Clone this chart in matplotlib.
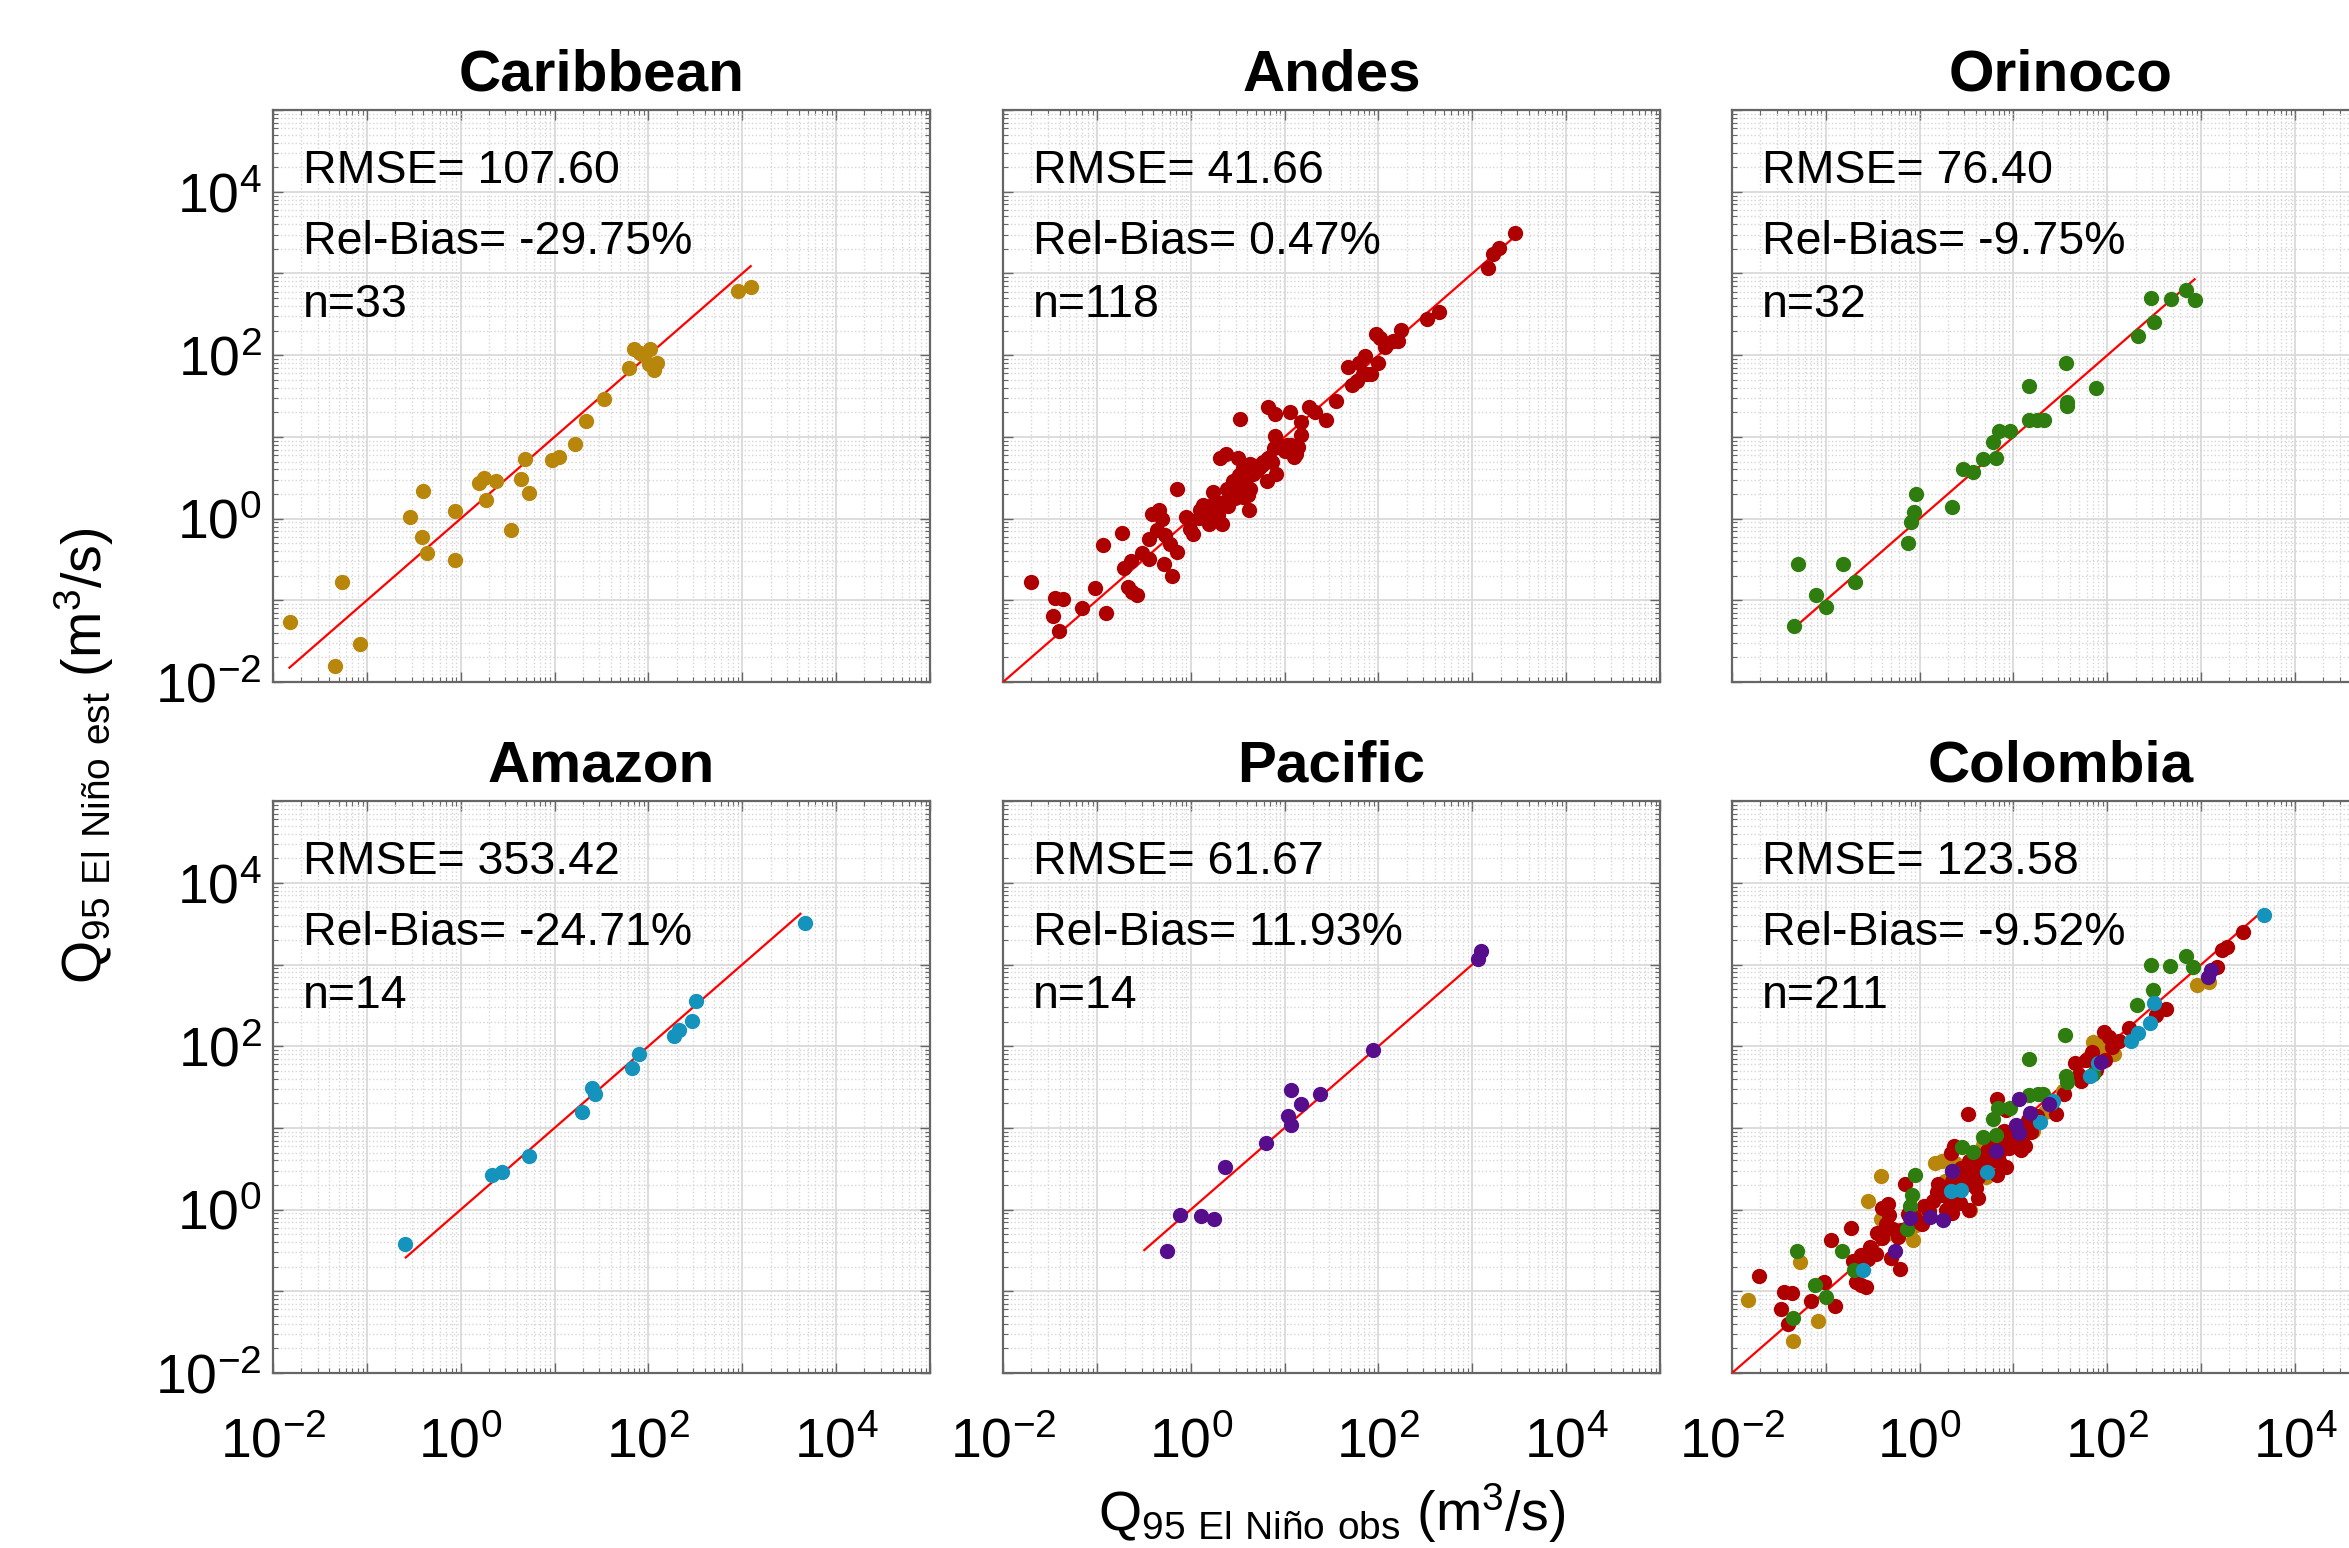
"""Q95 El Nino: estimated vs observed discharge by region, 2x3 log-log panels."""

import matplotlib

matplotlib.use("Agg")
import matplotlib.pyplot as plt
import numpy as np
from matplotlib.ticker import FuncFormatter, LogLocator, NullFormatter

plt.rcParams["font.family"] = ["Liberation Sans", "DejaVu Sans"]
plt.rcParams["mathtext.fontset"] = "custom"
plt.rcParams["mathtext.rm"] = "Liberation Sans"
plt.rcParams["mathtext.default"] = "regular"

# values are log10(m3/s)
carib_obs = [-1.82, -1.34, -1.26, -1.07, -0.54, -0.40, -0.41, -0.36, -0.06, -0.06, 0.19,
             0.25, 0.27, 0.38, 0.54, 0.64, 0.69, 0.73, 0.97, 1.05, 1.22, 1.34, 1.53, 1.79,
             1.85, 1.93, 2.02, 2.01, 2.06, 2.09, 1.91, 2.96, 3.09]
carib_est = [-1.26, -1.80, -0.77, -1.54, 0.02, 0.34, -0.23, -0.42, 0.09, -0.51, 0.44,
             0.50, 0.23, 0.46, -0.14, 0.49, 0.73, 0.31, 0.72, 0.75, 0.91, 1.19, 1.46, 1.84,
             2.07, 2.01, 2.07, 1.89, 1.82, 1.91, 2.03, 2.79, 2.83]

andes_obs = [-1.70, -1.45, -1.36, -1.47, -1.40, -1.16, -1.02, -0.90, -0.94, -0.73,
             -0.71, -0.64, -0.67, -0.63, -0.57, -0.52, -0.45, -0.44, -0.41, -0.34,
             -0.36, -0.31, -0.29, -0.27, -0.22, -0.20, -0.15, -0.05, -0.01, 0.02,
             0.09, 0.13, 0.17, 0.19, 0.22, 0.24, 0.29, 0.33, 0.36, 0.38,
             0.39, 0.43, 0.45, 0.50, 0.53, 0.56, 0.61, 0.62, 0.59, 0.46,
             0.31, 0.38, 0.50, 0.52, 0.51, 0.56, 0.63, 0.69, 0.73, 0.76,
             0.82, 0.87, 0.91, 0.81, 0.82, 0.90, 0.90, 0.93, 0.97, 1.00,
             1.05, 1.07, 1.10, 1.12, 1.14, 1.17, 1.06, 1.18, 1.26, 1.32,
             1.44, 1.55, 1.68, 1.72, 1.77, 1.79, 1.86, 1.84, 1.88, 1.92,
             2.00, 1.97, 2.02, 2.07, 2.09, 2.16, 2.21, 2.24, 2.52, 2.64,
             3.17, 3.22, 3.28, 3.46, 0.26, 0.31, 0.40, 0.47, 0.54, 0.63,
             0.66, 0.70, 0.77, 0.89, 1.03, 1.10, 0.10, -0.15]
andes_est = [-0.77, -0.97, -0.98, -1.19, -1.37, -1.09, -0.85, -1.16, -0.32, -0.18,
             -0.61, -0.52, -0.84, -0.90, -0.93, -0.42, -0.50, -0.25, 0.06, 0.11,
             -0.14, -0.01, -0.56, -0.20, -0.31, -0.70, 0.36, 0.02, -0.13, -0.19,
             0.01, 0.17, 0.08, -0.06, 0.11, 0.32, 0.04, -0.06, 0.18, 0.22,
             0.36, 0.36, 0.46, 0.31, 0.51, 0.27, 0.29, 0.11, 0.48, 0.41,
             0.74, 0.79, 0.74, 1.22, 0.53, 0.62, 0.67, 0.65, 0.62, 0.66,
             0.74, 0.69, 0.55, 0.46, 1.37, 1.28, 1.01, 0.90, 0.86, 0.83,
             0.88, 0.90, 0.83, 0.79, 0.88, 1.02, 1.30, 1.18, 1.37, 1.30,
             1.21, 1.44, 1.85, 1.63, 1.68, 1.90, 1.99, 1.77, 1.77, 1.77,
             1.91, 2.26, 2.21, 2.10, 2.14, 2.17, 2.17, 2.31, 2.44, 2.53,
             3.07, 3.24, 3.31, 3.49, 0.22, 0.13, 0.15, 0.25, 0.36, 0.36,
             0.55, 0.58, 0.69, 0.86, 0.90, 0.76, 0.11, -0.41]

orin_obs = [-1.34, -1.30, -1.10, -1.00, -0.82, -0.69, -0.12, -0.09, -0.06, -0.04, 0.34,
            0.46, 0.57, 0.68, 0.81, 0.78, 0.85, 0.96, 1.16, 1.16, 1.25, 1.33, 1.56, 1.57,
            1.57, 1.88, 2.33, 2.47, 2.50, 2.68, 2.84, 2.93]
orin_est = [-1.31, -0.55, -0.93, -1.08, -0.56, -0.77, -0.30, -0.04, 0.08, 0.30, 0.14,
            0.61, 0.57, 0.73, 0.74, 0.94, 1.07, 1.07, 1.62, 1.21, 1.21, 1.21, 1.90, 1.43,
            1.38, 1.60, 2.23, 2.70, 2.41, 2.69, 2.80, 2.67]

amaz_obs = [-0.59, 0.33, 0.44, 0.73, 1.29, 1.40, 1.43, 1.83, 1.90, 2.27, 2.33, 2.46, 2.51, 3.67]
amaz_est = [-0.42, 0.43, 0.46, 0.66, 1.20, 1.49, 1.42, 1.73, 1.91, 2.13, 2.20, 2.31, 2.55, 3.51]

paci_obs = [-0.25, -0.11, 0.11, 0.25, 0.36, 0.80, 1.04, 1.07, 1.07, 1.18, 1.38, 1.94, 3.06, 3.09]
paci_est = [-0.51, -0.07, -0.08, -0.12, 0.52, 0.81, 1.15, 1.03, 1.46, 1.29, 1.41, 1.95, 3.07, 3.16]

# national (Colombia) model, coloured by region
col_carib_obs = [-1.83, -1.35, -1.27, -1.08, -0.55, -0.41, -0.41, -0.35, -0.07, 0.16, 0.24,
                 0.38, 0.54, 0.71, 0.68, 1.21, 1.85, 1.93, 2.02, 2.07, 2.95, 3.08,
                 -0.06, 0.27, 0.64, 0.97, 1.05, 1.34, 1.53, 1.79, 1.91, 2.01, 2.09]
col_carib_est = [-1.10, -1.61, -0.64, -1.36, 0.11, 0.41, -0.12, -0.30, -0.37, 0.57, 0.59,
                 0.57, -0.01, 0.40, 0.79, 0.96, 2.05, 2.05, 1.99, 1.91, 2.75, 2.78,
                 -0.20, 0.35, 0.50, 0.85, 0.95, 1.20, 1.45, 1.85, 1.95, 2.00, 2.05]
col_andes_obs = [-1.71, -1.45, -1.36, -1.48, -1.40, -1.16, -1.02, -0.90, -0.94, -0.73,
                 -0.71, -0.63, -0.68, -0.63, -0.57, -0.53, -0.47, -0.45, -0.40, -0.34,
                 -0.33, -0.36, -0.28, -0.23, -0.30, -0.21, -0.16, -0.01,
                 0.02, 0.09, 0.14, 0.20, 0.23, 0.28, 0.32, 0.33, 0.37, 0.44,
                 0.39, 0.53, 0.60, 0.62, 0.53, 0.43, 0.34, 0.53, 0.64, 0.71,
                 0.60, 0.82, 0.92, 0.80, 0.74, 0.87, 0.90, 0.96, 1.01, 1.06,
                 1.12, 1.08, 1.13, 1.19, 1.19, 0.52, 0.82, 0.92, 1.45,
                 1.54, 1.72, 1.66, 1.77, 1.84, 1.88, 1.98, 1.96, 2.02, 2.05,
                 2.12, 2.23, 2.52, 2.62, 3.17, 3.22, 3.27, 3.45,
                 -0.20, -0.12, -0.05, 0.05, 0.10, 0.18, 0.25, 0.30, 0.35, 0.40,
                 0.45, 0.48, 0.50, 0.55, 0.58, 0.62, 0.65, 0.68, 0.72, 0.76,
                 0.80, 0.85, 0.88, 0.95, 1.00, 1.03, 1.10, 1.15, 1.25, -0.55,
                 -0.62, -0.40, 1.70]
col_andes_est = [-0.81, -1.01, -1.02, -1.22, -1.40, -1.12, -0.89, -1.18, -0.37, -0.23,
                 -0.63, -0.55, -0.88, -0.92, -0.95, -0.46, -0.54, -0.28, 0.02, 0.07,
                 -0.06, -0.18, -0.24, -0.34, -0.59, -0.73, 0.32, -0.15,
                 -0.18, 0.00, 0.10, 0.31, 0.18, 0.00, 0.10, 0.69, 0.78, 0.51,
                 0.31, 0.37, 0.27, 0.14, 0.00, 0.08, -0.04, 0.59, 0.61, 0.57,
                 0.47, 0.43, 0.52, 0.67, 0.63, 0.73, 0.96, 0.84, 0.82, 0.88,
                 0.78, 0.73, 1.00, 0.95, 1.12, 1.17, 1.35, 1.22, 1.17,
                 1.42, 1.58, 1.79, 1.83, 1.93, 1.71, 1.83, 2.18, 2.11, 1.99,
                 2.07, 2.22, 2.38, 2.45, 2.97, 3.18, 3.22, 3.40,
                 -0.25, -0.05, -0.10, 0.05, -0.02, 0.22, 0.25, 0.20, 0.35, 0.40,
                 0.45, 0.30, 0.50, 0.45, 0.55, 0.40, 0.65, 0.55, 0.72, 0.60,
                 0.80, 0.60, 0.85, 0.75, 0.95, 0.80, 0.90, 1.10, 1.15, -0.60,
                 -0.70, -0.35, 1.65]
col_orin_obs = [-1.35, -1.31, -1.11, -1.00, -0.83, -0.70, -0.05, -0.08, -0.10, -0.13, 0.45,
                0.57, 0.68, 0.81, 0.78, 0.84, 0.96, 1.17, 1.26, 1.31, 1.16, 1.55, 1.56, 1.57,
                2.32, 2.49, 2.46, 2.67, 2.84, 2.91, 0.34, 1.85]
col_orin_est = [-1.33, -0.51, -0.92, -1.07, -0.51, -0.74, 0.42, 0.18, 0.05, -0.24, 0.77,
                0.71, 0.89, 0.91, 1.11, 1.25, 1.24, 1.40, 1.42, 1.41, 1.84, 2.14, 1.64, 1.56,
                2.50, 2.69, 2.99, 2.98, 3.11, 2.97, 0.47, 1.66]
col_amaz_obs = [-0.60, 0.33, 0.44, 0.72, 1.28, 1.42, 1.82, 2.25, 2.33, 2.45, 2.50, 3.67, 1.40, 1.90]
col_amaz_est = [-0.74, 0.23, 0.24, 0.46, 1.07, 1.33, 1.64, 2.07, 2.16, 2.28, 2.53, 3.60, 1.30, 1.80]
col_paci_obs = [-0.26, -0.10, 0.11, 0.25, 0.35, 0.81, 1.06, 1.03, 1.18, 1.06, 1.38, 1.93, 3.07, 3.10]
col_paci_est = [-0.51, -0.10, -0.09, -0.13, 0.47, 0.72, 0.94, 1.03, 1.18, 1.35, 1.29, 1.81, 2.85, 2.93]

titles = ["Caribbean", "Andes", "Orinoco", "Amazon", "Pacific", "Colombia"]
rmse = [107.60, 41.66, 76.40, 353.42, 61.67, 123.58]
rel_bias = [-29.75, 0.47, -9.75, -24.71, 11.93, -9.52]
# extent of the 1:1 line drawn in each panel (m3/s)
line_lo = [0.015, 0.005, 0.046, 0.26, 0.32, 0.005]
line_hi = [1230, 3020, 851, 4170, 1410, 4570]

COLORS = {
    "carib": "#B8860B",
    "andes": "#AE0000",
    "orin": "#2F7D0E",
    "amaz": "#1493BC",
    "paci": "#560E8C",
}

regional = [
    [(carib_obs, carib_est, "carib")],
    [(andes_obs, andes_est, "andes")],
    [(orin_obs, orin_est, "orin")],
    [(amaz_obs, amaz_est, "amaz")],
    [(paci_obs, paci_est, "paci")],
    [
        (col_carib_obs, col_carib_est, "carib"),
        (col_andes_obs, col_andes_est, "andes"),
        (col_orin_obs, col_orin_est, "orin"),
        (col_amaz_obs, col_amaz_est, "amaz"),
        (col_paci_obs, col_paci_est, "paci"),
    ],
]


def decade_label(v, pos):
    e = int(round(np.log10(v)))
    if e % 2:
        return ""
    return r"$\mathdefault{10^{%d}}$" % e


def style_axes(ax, show_x, show_y):
    ax.set_xscale("log")
    ax.set_yscale("log")
    ax.set_xlim(1e-2, 1e5)
    ax.set_ylim(1e-2, 1e5)
    for axis in (ax.xaxis, ax.yaxis):
        axis.set_major_locator(LogLocator(base=10, numticks=20))
        axis.set_minor_locator(LogLocator(base=10, subs=np.arange(2, 10), numticks=20))
        axis.set_major_formatter(FuncFormatter(decade_label))
        axis.set_minor_formatter(NullFormatter())
    ax.grid(True, which="major", color="#dadada", linewidth=1.3)
    ax.grid(True, which="minor", color="#d6d6d6", linestyle=":", linewidth=1.0)
    ax.set_axisbelow(True)
    for spine in ax.spines.values():
        spine.set_color("#666666")
        spine.set_linewidth(1.6)
    ax.tick_params(which="both", direction="in", top=True, right=True,
                   colors="#666666", labelcolor="black", labelsize=40)
    ax.tick_params(which="major", length=7, width=1.0)
    ax.tick_params(which="minor", length=3.5, width=0.8)
    ax.tick_params(axis="x", pad=32, labelbottom=show_x)
    ax.tick_params(axis="y", pad=8, labelleft=show_y)


fig = plt.figure(figsize=(23.49, 15.48), dpi=100)

lefts = [0.1162, 0.4270, 0.7373]
bottoms = [0.5594, 0.1130]
width, height = 0.2797, 0.3695

for i, title in enumerate(titles):
    row, col = divmod(i, 3)
    ax = fig.add_axes([lefts[col], bottoms[row], width, height])
    style_axes(ax, show_x=(row == 1), show_y=(col == 0))

    ax.plot([line_lo[i], line_hi[i]], [line_lo[i], line_hi[i]], color="#ff0000",
            linewidth=1.6, zorder=3)
    n_total = 0
    for obs, est, key in regional[i]:
        ax.plot(10.0 ** np.array(obs), 10.0 ** np.array(est), "o", color=COLORS[key],
                markersize=11, markeredgewidth=0, zorder=4)
        n_total += len(obs)

    ax.set_title(title, fontsize=42, fontweight="bold", pad=14)
    ax.text(0.046, 0.873, f"RMSE= {rmse[i]:.2f}", transform=ax.transAxes,
            fontsize=33.5, va="baseline", ha="left", zorder=5)
    ax.text(0.046, 0.749, f"Rel-Bias= {rel_bias[i]:.2f}%", transform=ax.transAxes,
            fontsize=33.5, va="baseline", ha="left", zorder=5)
    ax.text(0.046, 0.639, f"n={n_total}", transform=ax.transAxes,
            fontsize=33.5, va="baseline", ha="left", zorder=5)

fig.text(0.5670, 0.011, r"Q$_{\mathregular{95\ El\ Niño\ obs}}$ (m$^{\mathregular{3}}$/s)",
         fontsize=40, ha="center", va="baseline")
fig.text(0.036, 0.512, r"Q$_{\mathregular{95\ El\ Niño\ est}}$ (m$^{\mathregular{3}}$/s)",
         fontsize=40, ha="center", va="center", rotation=90)

fig.savefig("out.png", dpi=100, facecolor="white")
